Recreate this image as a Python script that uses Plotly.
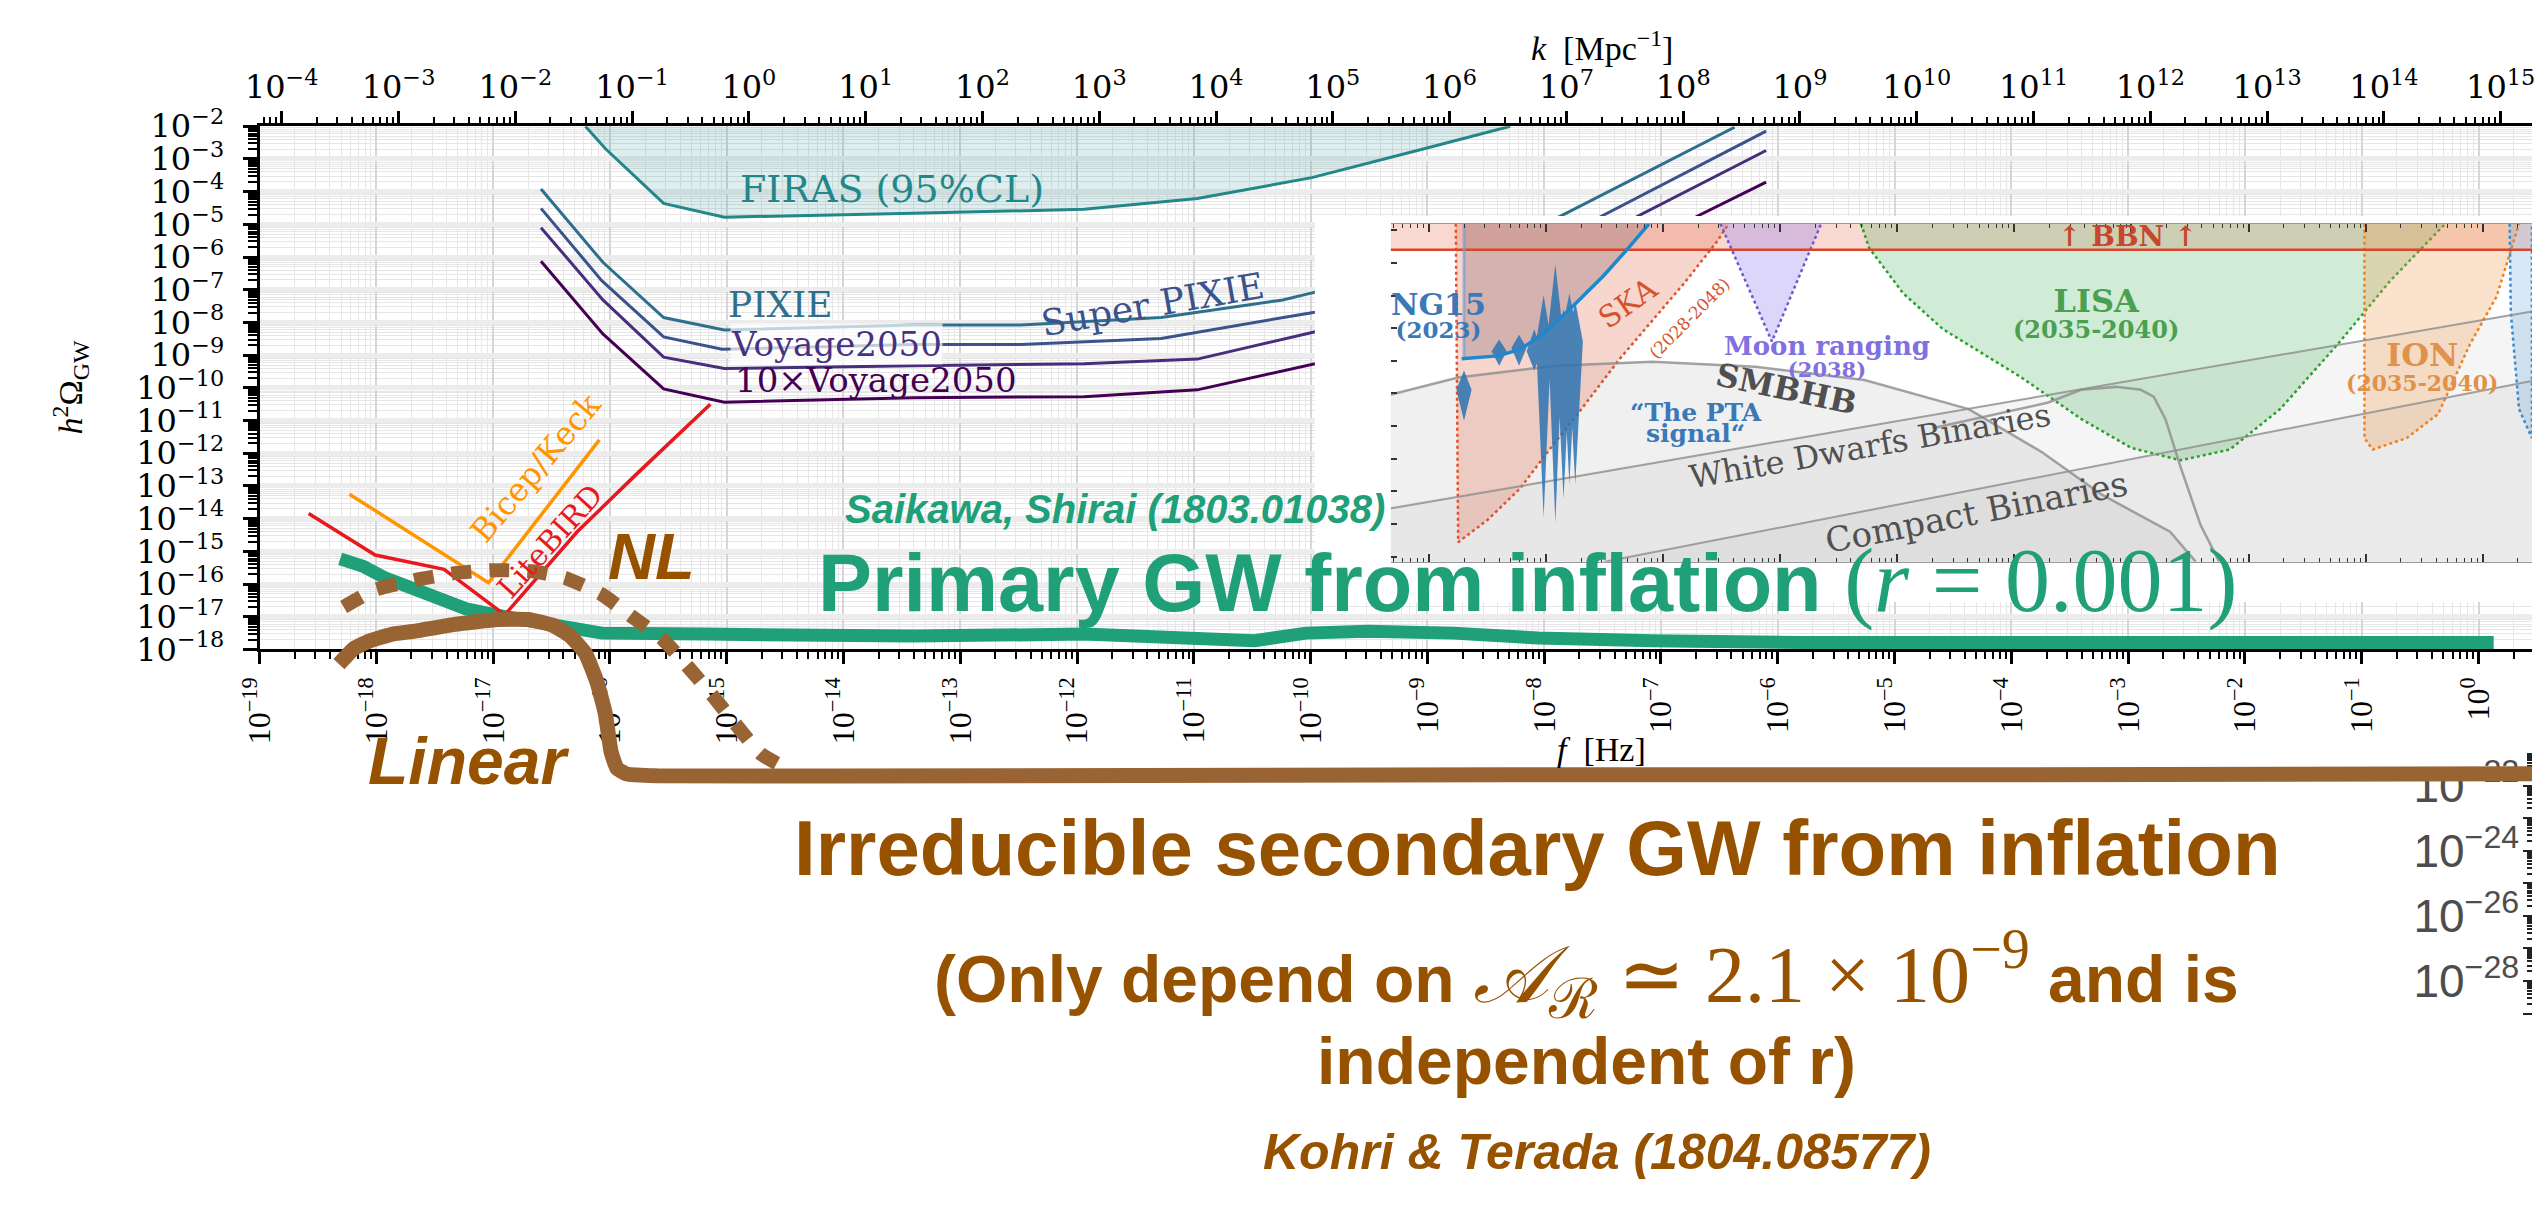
import numpy as np
import plotly.graph_objects as go

W, H = 2535, 1210

# ---------------- axis decades ----------------
F_DECADES = list(range(-19, 1))        # bottom axis, log10 f [Hz]
OMEGA_DECADES = list(range(-18, -1))   # left axis, log10 h^2 Omega_GW
K_DECADES = list(range(-4, 16))        # top axis, log10 k [Mpc^-1]
LOG_K_OVER_F = 14.81                   # k = 2 pi f / c  in Mpc^-1 per Hz
F_RANGE = [-19.0, 0.458]
OMEGA_RANGE = [-18.0, -2.0]

# ---------------- CMB spectral distortion bounds (log10 f, log10 h^2 Omega) ----------------
FIRAS_LOGF = [-16.21, -16.04, -15.54, -15.02, -13.40, -11.94, -10.97, -9.99, -9.02, -8.29]
FIRAS_LOGOM = [-2.00, -2.68, -4.36, -4.78, -4.66, -4.54, -4.21, -3.57, -2.68, -2.00]

PIXIE_LOGF = [-16.59, -16.06, -15.54, -15.02, -13.40, -12.48, -11.28, -10.24, -9.97, -9.16, -8.48, -7.86, -6.37]
PIXIE_LOGOM = [-3.92, -6.16, -7.85, -8.23, -8.08, -8.08, -7.85, -7.31, -7.08, -6.58, -5.81, -4.75, -2.03]

SUPER_PIXIE_LOGF = [-16.59, -16.07, -15.54, -15.04, -13.40, -12.48, -11.28, -9.99, -8.99, -8.06, -7.51, -6.10]
SUPER_PIXIE_LOGOM = [-4.51, -6.72, -8.44, -8.82, -8.67, -8.67, -8.49, -7.70, -7.17, -6.22, -4.75, -2.15]

VOYAGE_LOGF = [-16.59, -16.06, -15.54, -15.02, -13.40, -11.94, -10.97, -9.97, -8.99, -7.81, -7.20, -6.10]
VOYAGE_LOGOM = [-5.10, -7.31, -9.06, -9.41, -9.32, -9.26, -9.12, -8.29, -7.70, -6.66, -4.75, -2.74]

VOYAGE10_LOGF = [-16.59, -16.06, -15.54, -15.02, -13.40, -11.94, -10.97, -9.97, -8.74, -7.47, -6.69, -6.10]
VOYAGE10_LOGOM = [-6.13, -8.35, -10.03, -10.44, -10.30, -10.27, -10.06, -9.26, -8.29, -6.66, -4.75, -3.71]

# ---------------- CMB B-mode bounds ----------------
LITEBIRD_LOGF = [-18.58, -18.01, -17.42, -16.90, -16.28, -15.77, -15.14]
LITEBIRD_LOGOM = [-13.84, -15.11, -15.55, -16.94, -14.40, -12.63, -10.50]

BICEP_KECK_LOGF = [-18.23, -17.04, -16.09]
BICEP_KECK_LOGOM = [-13.25, -15.96, -11.59]

# ---------------- primary GW from inflation, r = 0.001 ----------------
PRIMARY_LOGF = [-18.31, -18.11, -17.92, -17.67, -17.23, -16.89, -16.41, -16.07, -15.19, -13.40,
                -11.94, -10.48, -10.04, -9.51, -8.78, -8.05, -7.08, -5.77, 0.13]
PRIMARY_LOGOM = [-15.23, -15.46, -15.82, -16.17, -16.76, -17.00, -17.35, -17.50, -17.53, -17.59,
                 -17.53, -17.73, -17.50, -17.44, -17.50, -17.65, -17.73, -17.79, -17.79]

# ---------------- irreducible secondary GW (own vertical scale) ----------------
SECONDARY_RANGE = [-34.444, 1.407]
SECONDARY_DECADES = list(range(-29, -21))
LINEAR_LOGF = [-18.32, -18.19, -18.06, -17.86, -17.67, -17.33, -16.96, -16.70, -16.49, -16.34, -16.21,
               -16.11, -16.04, -15.99, -15.94, -15.86, -15.60, -12.55, -8.31, -4.08, 0.46]
LINEAR_LOGOM = [-18.27, -17.79, -17.56, -17.35, -17.26, -17.05, -16.90, -16.90, -17.08, -17.41, -17.94,
                -18.83, -19.78, -20.96, -21.47, -21.64, -21.70, -21.70, -21.67, -21.67, -21.64]
NL_LOGF = [-18.28, -18.01, -17.67, -17.33, -17.01, -16.67, -16.38, -16.07, -15.79, -15.55, -15.33,
           -15.12, -14.92, -14.71, -14.49]
NL_LOGOM = [-16.52, -15.99, -15.69, -15.48, -15.39, -15.42, -15.63, -16.13, -16.87, -17.50, -18.36,
            -19.24, -20.13, -21.02, -21.47]

# ---------------- GW landscape panel (its own log axes) ----------------
INSET_F_RANGE = [-9.325, 0.421]
INSET_OM_RANGE = [-15.156, -4.801]
BBN_LOGOM = -5.6

PTA_LOGF = [-8.72, -8.41, -8.22, -8.02, -7.76, -7.51, -7.31, -7.12]
PTA_LOGOM = [-8.94, -8.85, -8.65, -8.17, -7.29, -6.40, -5.60, -4.80]
NG15_EDGE_LOGF = -8.70

NG15_LOGF = [-8.70, -8.40, -8.23, -8.10, -8.02, -7.92, -7.85, -7.80, -7.75]
NG15_TOP = [-9.30, -8.35, -8.20, -8.03, -6.99, -6.04, -7.43, -6.93, -7.17]
NG15_BOTTOM = [-10.84, -9.15, -9.15, -9.30, -13.80, -13.97, -13.23, -12.79, -12.79]
NG15_MODE = [-9.89, -8.71, -8.60, -8.71, -8.41, -8.12, -8.41, -8.12, -8.41]
NG15_HALF_WIDTH = 0.065

SKA_LOGF = [-8.77, -8.75, -8.50, -8.22, -7.99, -7.71, -7.37, -7.09, -6.81, -6.53, -6.44]
SKA_LOGOM = [-4.80, -14.56, -13.88, -12.91, -11.81, -10.54, -8.94, -7.76, -6.58, -5.30, -4.80]

MOON_LOGF = [-6.51, -6.07, -5.65]
MOON_LOGOM = [-4.80, -8.41, -4.80]

LISA_LOGF = [-5.31, -5.24, -4.95, -4.61, -3.94, -3.43, -3.00, -2.58, -2.16, -1.73, -1.24, -0.79, -0.32]
LISA_LOGOM = [-4.80, -5.54, -6.93, -8.03, -9.51, -10.78, -11.67, -12.05, -11.72, -10.48, -8.50, -6.55, -4.80]

ION_LOGF = [-1.01, -1.01, -0.94, -0.65, -0.38, -0.11, 0.12, 0.31]
ION_LOGOM = [-4.80, -11.37, -11.72, -11.37, -10.63, -8.50, -7.02, -4.80]

EDGE_LOGF = [0.23, 0.24, 0.31, 0.42, 0.42]
EDGE_LOGOM = [-4.80, -7.52, -10.48, -11.37, -4.80]

SMBHB_LOGF = [-9.33, -8.75, -7.91, -7.09, -6.21, -5.28, -4.39, -3.76, -3.26, -2.67, -2.45]
SMBHB_LOGOM = [-10.04, -9.51, -9.15, -9.03, -9.18, -9.59, -10.48, -11.81, -13.09, -14.24, -15.16]

WD_LOGF = [-9.33, 0.42]
WD_LOGOM = [-13.53, -7.49]
CB_LOGF = [-7.50, 0.42]
CB_LOGOM = [-15.16, -9.62]
GALACTIC_LOGF = [-4.70, -3.71, -3.43, -3.13, -2.92, -2.81, -2.71, -2.58, -2.41, -2.25]
GALACTIC_LOGOM = [-11.07, -10.28, -9.89, -9.80, -9.89, -10.10, -10.78, -12.26, -14.03, -15.16]

# ---------------- colours / fonts ----------------
GREEN = '#20a078'
BROWN_LINE = '#986434'
BROWN_TEXT = '#975200'
SERIF_WIDE = 'DejaVu Serif, serif'
SERIF = 'Liberation Serif, Times New Roman, serif'
SANS = 'Liberation Sans, Arial, Helvetica, sans-serif'


def pw(v):
    return [None if a is None else 10.0 ** a for a in v]


def pow10(n):
    return '10<sup>' + (('\u2212' + str(-n)) if n < 0 else str(n)) + '</sup>'


def minor_vals(lo, hi):
    return [k * 10.0 ** n for n in range(lo, hi + 1) for k in range(2, 10)]


fig = go.Figure()


def add(lf, lo, xa='x', ya='y', **kw):
    fig.add_trace(go.Scatter(x=pw(lf), y=pw(lo), xaxis=xa, yaxis=ya, mode='lines',
                             hoverinfo='skip', showlegend=False, **kw))


# ---- main panel ----
add(FIRAS_LOGF, FIRAS_LOGOM, fill='toself', fillcolor='rgba(35,135,138,0.15)',
    line=dict(color='#23878a', width=3))
for lf, lo, col in [(PIXIE_LOGF, PIXIE_LOGOM, '#2d708e'),
                    (SUPER_PIXIE_LOGF, SUPER_PIXIE_LOGOM, '#3b528b'),
                    (VOYAGE_LOGF, VOYAGE_LOGOM, '#472d7b'),
                    (VOYAGE10_LOGF, VOYAGE10_LOGOM, '#440154')]:
    add(lf, lo, line=dict(color=col, width=3))
add(PRIMARY_LOGF, PRIMARY_LOGOM, line=dict(color=GREEN, width=13))
add(LITEBIRD_LOGF, LITEBIRD_LOGOM, line=dict(color='#e8191e', width=3.5))
add(BICEP_KECK_LOGF, BICEP_KECK_LOGOM, line=dict(color='#ff9500', width=3.5))
# wavenumber axis along the top (shares the main vertical axis)
fig.add_trace(go.Scatter(x=[], y=[], xaxis='x5', yaxis='y', showlegend=False, hoverinfo='skip'))

# ---- white backing panel for the landscape plot ----
fig.add_trace(go.Scatter(x=[], y=[], xaxis='x2', yaxis='y2', showlegend=False, hoverinfo='skip'))

# ---- GW landscape panel ----
X3, Y3 = 'x3', 'y3'
ib = INSET_OM_RANGE[0] - 0.2
it = INSET_OM_RANGE[1] + 0.5
il, ir = INSET_F_RANGE[0] - 0.1, INSET_F_RANGE[1] + 0.1
add(SMBHB_LOGF + [SMBHB_LOGF[-1], il], SMBHB_LOGOM + [ib, ib], X3, Y3, fill='toself',
    fillcolor='rgba(128,128,128,0.12)', line=dict(width=0))
add([il] + WD_LOGF[1:] + [ir, ir, il], [WD_LOGOM[0], WD_LOGOM[1], WD_LOGOM[1], ib, ib], X3, Y3,
    fill='toself', fillcolor='rgba(128,128,128,0.08)', line=dict(width=0))
add(CB_LOGF + [ir, CB_LOGF[0]], CB_LOGOM + [ib, ib], X3, Y3, fill='toself',
    fillcolor='rgba(128,128,128,0.09)', line=dict(width=0))
add([il, ir, ir, il], [BBN_LOGOM, BBN_LOGOM, it, it], X3, Y3, fill='toself',
    fillcolor='rgba(230,100,70,0.25)', line=dict(width=0))
add([NG15_EDGE_LOGF] + PTA_LOGF[1:] + [NG15_EDGE_LOGF], [PTA_LOGOM[0]] + PTA_LOGOM[1:] + [it], X3, Y3,
    fill='toself', fillcolor='rgba(100,100,130,0.33)', line=dict(width=0))
add(SKA_LOGF, SKA_LOGOM, X3, Y3, fill='toself', fillcolor='rgba(230,120,90,0.30)',
    line=dict(color='#e0522e', width=2.5, dash='dot'))
add(MOON_LOGF, MOON_LOGOM, X3, Y3, fill='toself', fillcolor='rgba(140,120,240,0.30)',
    line=dict(color='#6a5acd', width=2.5, dash='dot'))
add(LISA_LOGF, LISA_LOGOM, X3, Y3, fill='toself', fillcolor='rgba(70,180,90,0.25)',
    line=dict(color='#2ca02c', width=2.5, dash='dot'))
add(ION_LOGF, ION_LOGOM, X3, Y3, fill='toself', fillcolor='rgba(240,160,90,0.30)',
    line=dict(color='#f08020', width=2.5, dash='dot'))
add(EDGE_LOGF, EDGE_LOGOM, X3, Y3, fill='toself', fillcolor='rgba(90,160,220,0.25)',
    line=dict(color='#3a8ad0', width=2.5, dash='dot'))
add(SMBHB_LOGF, SMBHB_LOGOM, X3, Y3, line=dict(color='rgba(140,140,140,0.8)', width=2.5))
add(WD_LOGF, WD_LOGOM, X3, Y3, line=dict(color='rgba(140,140,140,0.8)', width=2))
add(CB_LOGF, CB_LOGOM, X3, Y3, line=dict(color='rgba(140,140,140,0.8)', width=2))
add(GALACTIC_LOGF, GALACTIC_LOGOM, X3, Y3, line=dict(color='rgba(140,140,140,0.8)', width=2.5))
add([il, ir], [BBN_LOGOM, BBN_LOGOM], X3, Y3, line=dict(color='#d9452b', width=2.5))
add([NG15_EDGE_LOGF, NG15_EDGE_LOGF], [it, PTA_LOGOM[0]], X3, Y3,
    line=dict(color='rgba(120,160,205,0.7)', width=3))
vx, vy = [], []
for c, t, b, m in zip(NG15_LOGF, NG15_TOP, NG15_BOTTOM, NG15_MODE):
    vx += [c, c + NG15_HALF_WIDTH, c, c - NG15_HALF_WIDTH, c, None]
    vy += [t, m, b, m, t, None]
add(vx, vy, X3, Y3, fill='toself', fillcolor='rgba(45,115,178,0.85)', line=dict(width=0))
add(PTA_LOGF, PTA_LOGOM, X3, Y3, line=dict(color='#1f88cc', width=3.5))

# ---- irreducible secondary GW ----
add(NL_LOGF, NL_LOGOM, 'x4', 'y4', line=dict(color=BROWN_LINE, width=14, dash='20px,18px',
                                              shape='spline', smoothing=0.5))
add(LINEAR_LOGF, LINEAR_LOGOM, 'x4', 'y4', line=dict(color=BROWN_LINE, width=15,
                                                      shape='spline', smoothing=0.4))


# ---------------- layout ----------------
def px_x(p):
    return p / W


def px_y(p):
    return 1 - p / H


main_dom_x = [px_x(239), 1.0]
main_dom_y = [px_y(649), px_y(107)]

axis_base = dict(type='log', zeroline=False, showline=True, linecolor='black', linewidth=3,
                 ticks='outside', tickcolor='black', tickwidth=2.5, tickmode='array')

fig.update_layout(
    width=W, height=H, margin=dict(l=0, r=0, t=0, b=0), autosize=False,
    paper_bgcolor='white', plot_bgcolor='rgba(0,0,0,0)', showlegend=False, hovermode=False,
    xaxis=dict(**axis_base, domain=main_dom_x, range=F_RANGE, anchor='y',
               tickvals=[10.0 ** n for n in F_DECADES], ticktext=[pow10(n) for n in F_DECADES],
               tickangle=-90, ticklen=12, tickfont=dict(family=SERIF, size=32, color='black'),
               showgrid=True, gridcolor='#d6d6d6', gridwidth=1.5,
               minor=dict(tickvals=minor_vals(-19, 0), ticks='outside', ticklen=7, tickwidth=1.5,
                          tickcolor='black', showgrid=True, gridcolor='#e6e6e6', gridwidth=1)),
    yaxis=dict(**axis_base, domain=main_dom_y, range=OMEGA_RANGE, anchor='x',
               tickvals=[10.0 ** n for n in OMEGA_DECADES], ticktext=[pow10(n) for n in OMEGA_DECADES],
               ticklen=14, ticklabelstandoff=12, tickfont=dict(family=SERIF_WIDE, size=32, color='black'),
               showgrid=True, gridcolor='#ececec', gridwidth=5,
               minor=dict(tickvals=minor_vals(-18, -3), ticks='outside', ticklen=9, tickwidth=1.5,
                          tickcolor='black', showgrid=True, gridcolor='#e6e6e6', gridwidth=1)),
    xaxis5=dict(**axis_base, overlaying='x', side='top', anchor='y',
                range=[F_RANGE[0] + LOG_K_OVER_F, F_RANGE[1] + LOG_K_OVER_F],
                tickvals=[10.0 ** n for n in K_DECADES], ticktext=[pow10(n) for n in K_DECADES],
                ticklen=12, tickfont=dict(family=SERIF_WIDE, size=32, color='black'), showgrid=False,
                ticklabeloverflow='allow',
                minor=dict(tickvals=minor_vals(-5, 15), ticks='outside', ticklen=6, tickwidth=1.5,
                           tickcolor='black', showgrid=False)),
    xaxis2=dict(domain=[px_x(1305), 1.0], range=[0, 1], anchor='y2', visible=False),
    yaxis2=dict(domain=[px_y(600), px_y(200)], range=[0, 1], anchor='x2', visible=False),
    xaxis3=dict(type='log', domain=[px_x(1382), 1.0], range=INSET_F_RANGE, anchor='y3',
                showgrid=False, zeroline=False, showline=True, linecolor='#999', linewidth=1,
                showticklabels=False, ticks='inside', ticklen=8, tickwidth=1.5, tickcolor='#333',
                mirror='ticks', tickvals=[10.0 ** n for n in range(-10, 1)],
                minor=dict(tickvals=minor_vals(-10, 0), ticks='inside', ticklen=4, tickwidth=1,
                           tickcolor='#333')),
    yaxis3=dict(type='log', domain=[px_y(558), px_y(208)], range=INSET_OM_RANGE, anchor='x3',
                showgrid=False, zeroline=False, showline=False, showticklabels=False,
                ticks='inside', ticklen=6, tickwidth=1.5, tickcolor='#333',
                tickvals=[10.0 ** n for n in range(-16, -3)]),
    xaxis4=dict(type='log', domain=main_dom_x, range=F_RANGE, anchor='y4', visible=False),
    yaxis4=dict(type='log', domain=[0, 1], range=SECONDARY_RANGE, anchor='x4', side='right',
                showgrid=False, zeroline=False, showline=False, layer='below traces',
                ticks='inside', ticklen=9, tickwidth=2, tickcolor='#222',
                ticklabelposition='inside', ticklabelstandoff=10,
                tickmode='array', tickvals=[10.0 ** n for n in SECONDARY_DECADES],
                ticktext=[pow10(n) if n % 2 == 0 else '' for n in SECONDARY_DECADES],
                tickfont=dict(family=SANS, size=46, color='#4d4d4d'),
                minor=dict(tickvals=minor_vals(-29, -22), ticks='inside', ticklen=5, tickwidth=1.5,
                           tickcolor='#222')),
)

fig.add_shape(type='rect', xref='x2', yref='y2', x0=0, x1=1, y0=0, y1=1, layer='below',
              fillcolor='white', line=dict(width=0))


def note(text, px, py, size, color, family, angle=0, xanchor='center', bg=None):
    fig.add_annotation(text=text, x=px_x(px), y=px_y(py), xref='paper', yref='paper',
                       showarrow=False, textangle=angle, xanchor=xanchor, yanchor='middle',
                       font=dict(family=family, size=size, color=color),
                       bgcolor=bg, borderpad=0)


def big(text, px):
    return '<span style="font-size:%dpx">%s</span>' % (px, text)


# axis titles
note('<i>h</i><sup>2</sup>\u03a9<sub>GW</sub>', 48, 378, 34, 'black', SERIF, angle=-90)
note('<i>k</i>  [Mpc<sup>\u22121</sup>]', 1595, 24, 34, 'black', SERIF)
note('<i>f</i>  [Hz]', 1595, 753, 34, 'black', SERIF)

# main panel labels
note('FIRAS (95%CL)', 878, 172, 38, '#23878a', SERIF_WIDE)
note('PIXIE', 765, 292, 36, '#2d708e', SERIF_WIDE)
note('Super PIXIE', 1141, 292, 36, '#3b528b', SERIF_WIDE, angle=-10)
note('Voyage2050', 822, 333, 34, '#46327e', SERIF_WIDE, bg='rgba(255,255,255,0.7)')
note('10\u00d7Voyage2050', 862, 370, 34, '#440154', SERIF_WIDE)
note('Bicep/Keck', 518, 461, 32, '#ff9500', SERIF_WIDE, angle=-50)
note('LiteBIRD', 532, 537, 30, '#e8191e', SERIF_WIDE, angle=-48)

# landscape panel labels (two-line labels kept in one text block)
note(big('<b>NG15</b>', 30) + '<br>' + big('<b>(2023)</b>', 23), 1381, 302, 18, '#3a78b8',
     SERIF_WIDE, xanchor='left')
note('SKA', 1622, 290, 30, '#d4532f', SERIF_WIDE, angle=-35)
note('(2028-2048)', 1684, 306, 17, '#d4532f', SERIF_WIDE, angle=-45)
note(big('<b>Moon ranging</b>', 26) + '<br>' + big('<b>(2038)</b>', 21), 1823, 346, 17, '#8070e0',
     SERIF_WIDE)
note('<b>SMBHB</b>', 1782, 379, 32, '#505050', SERIF_WIDE, angle=12)
note(big('<b>\u201cThe PTA</b>', 25) + '<br>' + big('<b>signal\u201c</b>', 25), 1690, 414, 16,
     '#3a78b8', SERIF_WIDE)
note('White Dwarfs Binaries', 1866, 438, 32, '#505050', SERIF_WIDE, angle=-10)
note('Compact Binaries', 1974, 507, 34, '#505050', SERIF_WIDE, angle=-11)
note(big('<b>LISA</b>', 32) + '<br>' + big('<b>(2035-2040)</b>', 24), 2094, 300, 20, '#4aa050',
     SERIF_WIDE)
note(big('<b>ION</b>', 32) + '<br>' + big('<b>(2035-2040)</b>', 22), 2424, 355, 19, '#e0914a',
     SERIF_WIDE)
note('<b>\u2191 BBN \u2191</b>', 2126, 221, 28, '#c8462e', SERIF_WIDE)

# headline texts
note('<b><i>Saikawa, Shirai (1803.01038)</i></b>', 1103, 503, 40, GREEN, SANS)
note('<b>Primary GW from inflation</b> <span style="font-family:Liberation Serif;font-size:90px">'
     '(<i>r</i> = 0.001)</span>', 1520, 578, 81, GREEN, SANS)
note('<b><i>NL</i></b>', 635, 553, 65, BROWN_TEXT, SANS)
note('<b><i>Linear</i></b>', 450, 765, 66, BROWN_TEXT, SANS)
note('<b>Irreducible secondary GW from inflation</b>', 1530, 855, 78, BROWN_TEXT, SANS)
note('<b>(Only depend on </b><span style="font-family:Liberation Serif;font-size:80px">'
     '<i>\U0001D49C</i><sub>\u211B</sub> \u2243 2.1 \u00d7 10<sup>\u22129</sup></span><b> and is</b>',
     1580, 985, 66, BROWN_TEXT, SANS)
note('<b>independent of r)</b>', 1580, 1075, 66, BROWN_TEXT, SANS)
note('<b><i>Kohri &amp; Terada (1804.08577)</i></b>', 1590, 1170, 50, BROWN_TEXT, SANS)

fig.write_html('out.html', config={'displayModeBar': False})
